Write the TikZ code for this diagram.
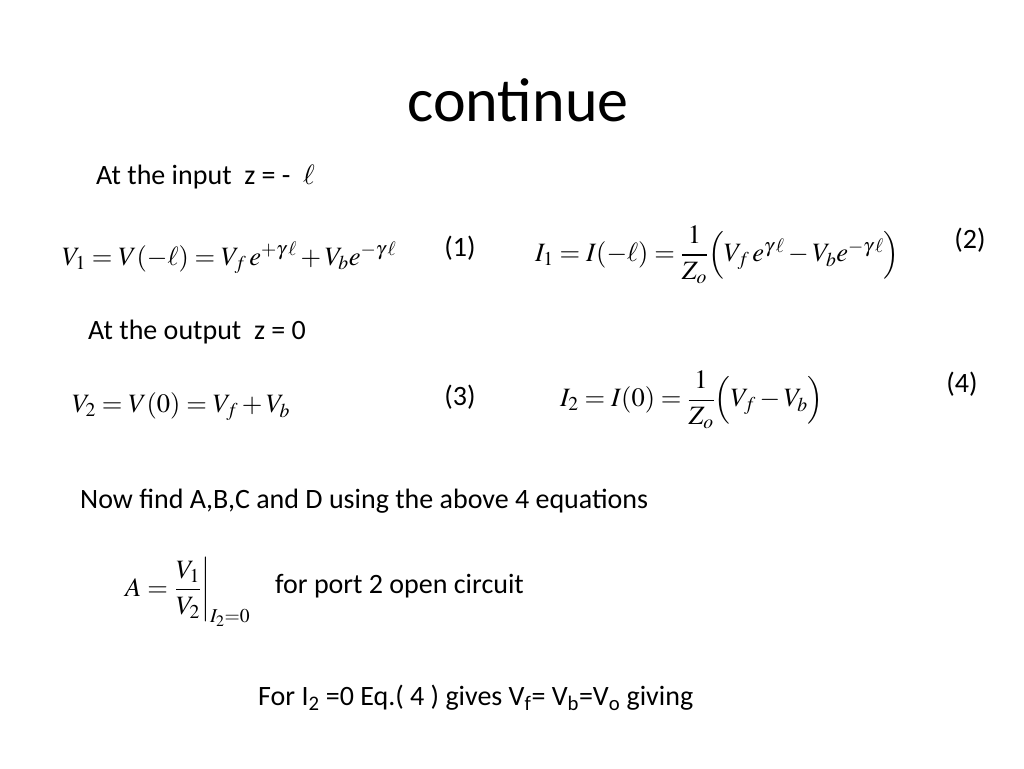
\documentclass[tikz,border=0pt]{standalone}
\usepackage{amsmath}
\usepackage{mathptmx}
\usepackage{fontspec}
\setmainfont{Carlito}
\begin{document}
\begin{tikzpicture}[x=1pt,y=-1pt,
  txt/.style={anchor=west,inner sep=0pt,font=\fontsize{28}{32}\selectfont},
  eq/.style={anchor=west,inner sep=0pt,font=\fontsize{26.5}{30}\selectfont},
  num/.style={anchor=center,inner sep=0pt,font=\fontsize{28}{32}\selectfont}]
\useasboundingbox[fill=white] (0,0) rectangle (1024,768);
\node[inner sep=0pt,font=\fontsize{62}{70}\selectfont] (title) at (518,100) {continue};
\node[txt] (in) at (96,177) {At the input\ \ z = -\ \ $\ell$};
\node[eq] (e1) at (62,258) {$V_1=V(-\ell)=V_f\,e^{+\gamma\,\ell}+V_b e^{-\gamma\,\ell}$};
\node[num] (n1) at (460,248) {(1)};
\node[eq] (e2) at (535,255) {$I_1=I(-\ell)=\dfrac{1}{Z_o}\Big(V_f\,e^{\gamma\,\ell}-V_b e^{-\gamma\,\ell}\Big)$};
\node[num] (n2) at (970,240) {(2)};
\node[txt] (out) at (88,332) {At the output\ \ z = 0};
\node[eq] (e3) at (72,407) {$V_2=V(0)=V_f+V_b$};
\node[num] (n3) at (460,397) {(3)};
\node[eq] (e4) at (560,400) {$I_2=I(0)=\dfrac{1}{Z_o}\Big(V_f-V_b\Big)$};
\node[num] (n4) at (962,384) {(4)};
\node[txt] (now) at (80,501) {Now find A,B,C and D using the above 4 equations};
\node[eq] (ea) at (125,592) {$A=\left.\dfrac{V_1}{V_2}\right|_{I_2=0}$};
\node[txt] (port) at (275,586) {for port 2 open circuit};
\node[txt] (for) at (258,698) {For I\textsubscript{2} =0 Eq.( 4 ) gives V\textsubscript{f}= V\textsubscript{b}=V\textsubscript{o} giving};
\end{tikzpicture}
\end{document}
